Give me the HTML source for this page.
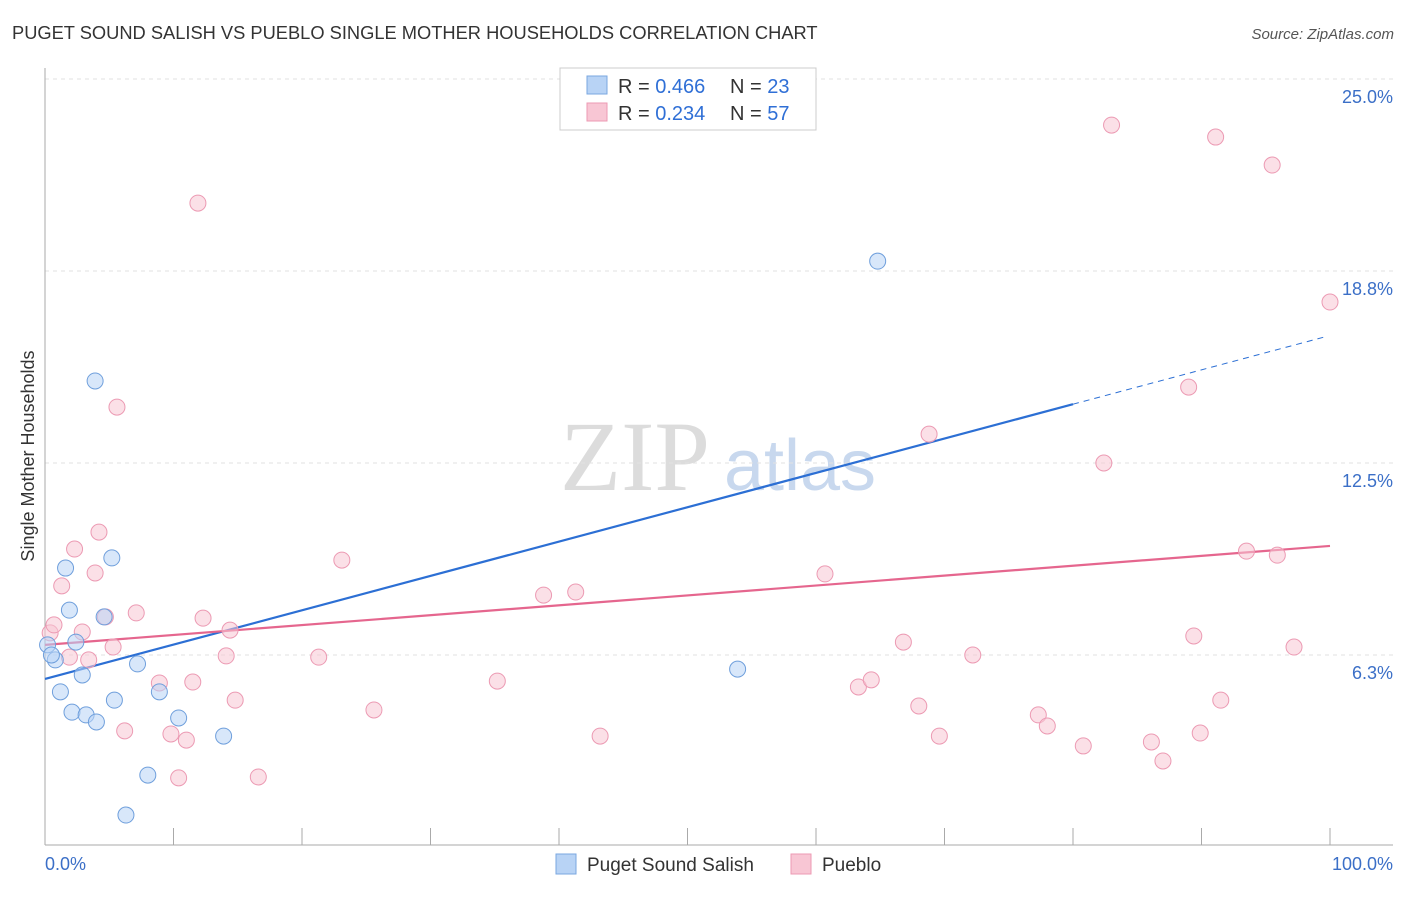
<!DOCTYPE html>
<html><head><meta charset="utf-8"><style>
body{margin:0;background:#fff;font-family:"Liberation Sans",sans-serif;}
svg text{font-family:"Liberation Sans",sans-serif;}
</style></head><body>
<svg id="c" width="1406" height="892">
<text x="12" y="39" font-size="18.3" fill="#333">PUGET SOUND SALISH VS PUEBLO SINGLE MOTHER HOUSEHOLDS CORRELATION CHART</text>
<text x="1394" y="39" font-size="15" fill="#555" font-style="italic" text-anchor="end">Source: ZipAtlas.com</text>
<g><text x="635" y="490" font-size="100" style="font-family:'Liberation Serif',serif" fill="#dcdcdc" text-anchor="middle">ZIP</text><text x="800" y="490" font-size="72" fill="#c8d8ee" text-anchor="middle">atlas</text></g>
<text transform="translate(34,456) rotate(-90)" font-size="18" fill="#333" text-anchor="middle">Single Mother Households</text>
<g id="grid"></g><g id="axes"></g><g id="lines"></g><g id="pts"></g>
<g>
<rect x="560" y="68" width="256" height="62" fill="#fff" stroke="#ccc"/>
<rect x="587" y="76" width="20" height="18" fill="#b8d3f5" stroke="#7aa7e0"/>
<rect x="587" y="103" width="20" height="18" fill="#f8c6d4" stroke="#ec9ab3"/>
<text x="618" y="93" font-size="20" fill="#333">R = <tspan fill="#2f6fd6">0.466</tspan></text>
<text x="730" y="93" font-size="20" fill="#333">N = <tspan fill="#2f6fd6">23</tspan></text>
<text x="618" y="120" font-size="20" fill="#333">R = <tspan fill="#2f6fd6">0.234</tspan></text>
<text x="730" y="120" font-size="20" fill="#333">N = <tspan fill="#2f6fd6">57</tspan></text>
</g>
<g>
<rect x="556" y="854" width="20" height="20" fill="#b8d3f5" stroke="#7aa7e0"/>
<text x="587" y="871" font-size="19" fill="#333">Puget Sound Salish</text>
<rect x="791" y="854" width="20" height="20" fill="#f8c6d4" stroke="#ec9ab3"/>
<text x="822" y="871" font-size="19" fill="#333">Pueblo</text>
</g>
<text x="45" y="870" font-size="18" fill="#3b6fc7">0.0%</text>
<text x="1393" y="870" font-size="18" fill="#3b6fc7" text-anchor="end">100.0%</text>
</svg>
<script>
const yTicks=[25.0,18.8,12.5,6.3];
const yTickVals=[25,18.75,12.5,6.25];
const blueX=[0.2,0.8,0.5,1.2,1.6,1.9,2.1,2.4,2.9,3.2,3.9,4.0,4.6,5.2,5.4,6.3,7.2,8.0,8.9,10.4,13.9,53.9,64.8];
const blueY=[6.58,6.09,6.25,5.05,9.08,7.71,4.39,6.67,5.60,4.30,15.17,4.07,7.49,9.41,4.78,1.04,5.96,2.34,5.05,4.20,3.61,5.79,19.07];
const pinkX=[0.4,0.7,1.3,1.9,2.3,2.9,3.4,3.9,4.2,4.7,5.3,5.6,6.2,7.1,8.9,9.8,10.4,11.0,11.5,11.9,12.3,14.1,14.4,14.8,16.6,21.3,23.1,25.6,35.2,38.8,41.3,43.2,60.7,63.3,64.3,66.8,68.0,68.8,69.6,72.2,77.3,78.0,80.8,82.4,83.0,86.1,87.0,89.0,89.4,89.9,91.1,91.5,93.5,95.5,95.9,97.2,100.0];
const pinkY=[6.97,7.23,8.50,6.18,9.70,7.00,6.09,8.92,10.25,7.49,6.51,14.32,3.78,7.62,5.34,3.68,2.25,3.48,5.37,20.96,7.45,6.22,7.06,4.78,2.28,6.18,9.34,4.46,5.40,8.20,8.30,3.61,8.89,5.21,5.44,6.67,4.59,13.44,3.61,6.25,4.30,3.94,3.29,12.50,23.50,3.42,2.80,14.97,6.87,3.71,23.11,4.78,9.63,22.20,9.50,6.51,17.74];
const blueTrend=[5.47,0.1118]; // intercept, slope
const blueSolidEnd=80, blueDashEnd=99.6;
const pinkTrend=[6.58,0.0322];
const pinkEnd=100;
const NS="http://www.w3.org/2000/svg";
const X=v=>45+v*12.85, Y=v=>847-v*30.72;
function mk(t,a,p){const e=document.createElementNS(NS,t);for(const k in a)e.setAttribute(k,a[k]);document.getElementById(p).appendChild(e);return e;}
yTickVals.forEach((v,i)=>{
 const g=mk('line',{x1:45,x2:1393,y1:Y(v),y2:Y(v),stroke:'#e2e2e2','stroke-dasharray':'4,4'},'grid');
 
 
 const t=mk('text',{x:1393,y:Y(v)+24,'font-size':18,fill:'#3b6fc7','text-anchor':'end'},'grid');
 t.textContent=yTicks[i].toFixed(1)+'%';
 
 
});
let a=mk('line',{x1:45,x2:45,y1:68,y2:845,stroke:'#aaa'},'axes');


a=mk('line',{x1:45,x2:1393,y1:845,y2:845,stroke:'#aaa'},'axes');


for(let i=1;i<=10;i++){const t=mk('line',{x1:X(i*10),x2:X(i*10),y1:828,y2:845,stroke:'#aaa'},'axes');
 
 }
function pts(xs,ys,fill,stroke,name){xs.forEach((x,i)=>{const c=mk('circle',{cx:X(x),cy:Y(ys[i]),r:8,fill:fill,stroke:stroke,'stroke-width':1,'fill-opacity':0.55},'pts');
 
 });}
pts(pinkX,pinkY,'#f8c6d4','#ec9ab3','pueblo-point');
pts(blueX,blueY,'#b8d3f5','#6f9fdc','salish-point');
let l=mk('line',{x1:X(0),y1:Y(blueTrend[0]),x2:X(blueSolidEnd),y2:Y(blueTrend[0]+blueTrend[1]*blueSolidEnd),stroke:'#2c6fd4','stroke-width':2.2},'lines');


l=mk('line',{x1:X(blueSolidEnd),y1:Y(blueTrend[0]+blueTrend[1]*blueSolidEnd),x2:X(blueDashEnd),y2:Y(blueTrend[0]+blueTrend[1]*blueDashEnd),stroke:'#2c6fd4','stroke-width':1,'stroke-dasharray':'6,5'},'lines');


l=mk('line',{x1:X(0),y1:Y(pinkTrend[0]),x2:X(pinkEnd),y2:Y(pinkTrend[0]+pinkTrend[1]*pinkEnd),stroke:'#e5668e','stroke-width':2.2},'lines');


</script>
</body></html>
